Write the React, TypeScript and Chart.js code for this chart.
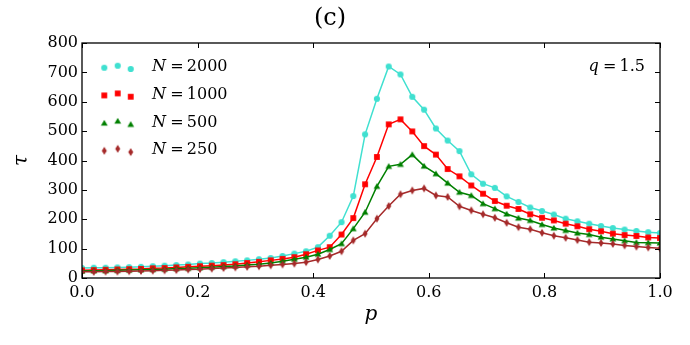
import React, { useEffect, useRef } from 'react';
import { Chart, registerables } from 'chart.js';

Chart.register(...registerables);

// ---- data ----
const P_COUNT = 50; // p sampled uniformly on [0, 1]
const P = Array.from({ length: P_COUNT }, (_, k) => k / (P_COUNT - 1));

const SIZES = [2000, 1000, 500, 250];
const Q_VALUE = '1.5';
const TITLE = '(c)';
const X_LABEL = 'p';
const Y_LABEL = 'τ';

const TAU_N2000 = [34, 35, 35, 36, 37, 38, 40, 42, 44, 46, 49, 51, 54, 57, 60, 64, 68, 75,
  83, 91, 105, 144, 190, 279, 489, 610, 720, 693, 617, 573, 509, 468, 432, 353, 321, 307,
  278, 259, 240, 228, 216, 202, 193, 185, 177, 170, 165, 160, 156, 153];
const TAU_N1000 = [26, 27, 28, 29, 30, 31, 33, 34, 36, 38, 40, 42, 44, 47, 51, 55, 60, 65,
  71, 81, 94, 105, 148, 204, 319, 412, 523, 540, 499, 449, 420, 371, 346, 315, 287,
  262, 246, 235, 217, 205, 196, 185, 176, 166, 159, 151, 146, 143, 138, 136];
const TAU_N500 = [24, 25, 25, 26, 27, 28, 29, 30, 32, 33, 35, 37, 39, 41, 44, 47, 51, 57,
  64, 71, 81, 97, 117, 168, 224, 312, 380, 387, 420, 381, 355, 323, 292, 281, 253,
  236, 218, 204, 196, 182, 170, 162, 153, 148, 139, 133, 127, 121, 120, 119];
const TAU_N250 = [21, 21, 22, 22, 23, 24, 25, 26, 27, 29, 30, 32, 34, 36, 38, 40, 43, 46,
  49, 54, 63, 75, 91, 128, 151, 202, 245, 285, 298, 305, 281, 276, 244, 230, 217,
  205, 188, 173, 166, 154, 144, 137, 129, 122, 119, 116, 111, 107, 104, 101];

const SERIES = [TAU_N2000, TAU_N1000, TAU_N500, TAU_N250];
const COLORS = ['#40E0D0', '#FF0000', '#008000', '#A52A2A'];
const MARKERS = ['circle', 'square', 'triangle', 'thinDiamond'];

const SERIF = '"DejaVu Serif", serif';

function makeMarker(kind: string, color: string): HTMLCanvasElement {
  const c = document.createElement('canvas');
  c.width = 10;
  c.height = 10;
  const g = c.getContext('2d')!;
  g.fillStyle = color;
  g.beginPath();
  if (kind === 'circle') {
    g.arc(5, 5, 3.1, 0, Math.PI * 2);
  } else if (kind === 'square') {
    g.rect(2.1, 2.1, 5.8, 5.8);
  } else if (kind === 'triangle') {
    g.moveTo(5, 1.7);
    g.lineTo(8.4, 7.5);
    g.lineTo(1.6, 7.5);
    g.closePath();
  } else {
    g.moveTo(5, 1.1);
    g.lineTo(7.5, 5);
    g.lineTo(5, 8.9);
    g.lineTo(2.5, 5);
    g.closePath();
  }
  g.fill();
  return c;
}

function drawMath(ctx: CanvasRenderingContext2D, x: number, y: number, v: string, rest: string, size: number, align: 'left' | 'right') {
  ctx.textBaseline = 'middle';
  ctx.textAlign = 'left';
  const itFont = `italic ${size}px ${SERIF}`;
  const upFont = `${size}px ${SERIF}`;
  const restText = '\u2009=\u2009' + rest;
  ctx.font = itFont;
  const w1 = ctx.measureText(v).width;
  ctx.font = upFont;
  const w2 = ctx.measureText(restText).width;
  const x0 = align === 'left' ? x : x - w1 - w2;
  ctx.font = itFont;
  ctx.fillText(v, x0, y);
  ctx.font = upFont;
  ctx.fillText(restText, x0 + w1 + 1, y);
}

export default function App() {
  const ref = useRef<HTMLCanvasElement | null>(null);

  useEffect(() => {
    const canvas = ref.current;
    if (!canvas) return;
    const markerImgs = MARKERS.map((m, i) => makeMarker(m, COLORS[i]));

    const frame = {
      id: 'frameAndLegend',
      afterDraw(chart: any) {
        const { ctx, chartArea: a, scales } = chart;
        ctx.save();
        // inward ticks
        ctx.strokeStyle = '#000';
        ctx.lineWidth = 1;
        const tl = 5;
        ctx.beginPath();
        scales.y.ticks.forEach((t: any) => {
          const py = Math.round(scales.y.getPixelForValue(t.value)) + 0.5;
          ctx.moveTo(a.left, py); ctx.lineTo(a.left + tl, py);
          ctx.moveTo(a.right, py); ctx.lineTo(a.right - tl, py);
        });
        scales.x.ticks.forEach((t: any) => {
          const px = Math.round(scales.x.getPixelForValue(t.value)) + 0.5;
          ctx.moveTo(px, a.bottom); ctx.lineTo(px, a.bottom - tl);
          ctx.moveTo(px, a.top); ctx.lineTo(px, a.top + tl);
        });
        ctx.stroke();
        // box
        ctx.lineWidth = 1.3;
        ctx.strokeRect(a.left, a.top, a.right - a.left, a.bottom - a.top);

        // legend
        ctx.fillStyle = '#000';
        const mx = [104.3, 117.7, 130.7];
        const dy = [0.7, -1.3, 2.0];
        SIZES.forEach((n, i) => {
          const cy = 67 + i * 27.7;
          mx.forEach((x, j) => {
            ctx.drawImage(markerImgs[i], x - 5, cy + dy[j] - 5);
          });
          ctx.fillStyle = '#000';
          drawMath(ctx, 152, cy, 'N', String(n), 16, 'left');
        });
        // parameter label
        drawMath(ctx, 644, 67, 'q', Q_VALUE, 16, 'right');
        ctx.restore();
      },
    };

    const datasets = SERIES.map((vals, i) => ({
      label: `N = ${SIZES[i]}`,
      data: vals.map((v, k) => ({ x: P[k], y: v })),
      borderColor: COLORS[i],
      backgroundColor: COLORS[i],
      borderWidth: 1.5,
      pointStyle: markerImgs[i] as any,
      pointRadius: 3,
      order: SERIES.length - 1 - i,
      clip: 0,
      tension: 0,
    }));

    const chart = new Chart(canvas, {
      type: 'line',
      data: { datasets },
      options: {
        responsive: false,
        animation: false,
        devicePixelRatio: 1,
        layout: { padding: { left: 0, right: 30, top: 0, bottom: 0 } },
        plugins: {
          legend: { display: false },
          tooltip: { enabled: false },
          title: {
            display: true,
            text: TITLE,
            color: '#000',
            font: { family: SERIF, size: 24, weight: 'normal' },
            padding: { top: 4, bottom: 10.2 },
          },
        },
        scales: {
          x: {
            type: 'linear',
            min: 0,
            max: 1,
            afterFit: (s: any) => { s.height = 67; },
            grid: { display: false, drawTicks: false },
            border: { display: false },
            ticks: {
              stepSize: 0.2,
              padding: 5,
              color: '#000',
              font: { family: SERIF, size: 16 },
              callback: (v: any) => Number(v).toFixed(1),
            },
            title: {
              display: true,
              text: X_LABEL,
              color: '#000',
              font: { family: SERIF, size: 20, style: 'italic' },
              padding: { top: 0, bottom: 18 },
            },
          },
          y: {
            type: 'linear',
            min: 0,
            max: 800,
            afterFit: (s: any) => { s.width = 82; },
            grid: { display: false, drawTicks: false },
            border: { display: false },
            ticks: {
              stepSize: 100,
              padding: 4,
              color: '#000',
              font: { family: SERIF, size: 16 },
            },
            title: {
              display: true,
              text: Y_LABEL,
              color: '#000',
              font: { family: SERIF, size: 20, style: 'italic' },
              padding: { top: 10, bottom: 0 },
            },
          },
        },
      },
      plugins: [frame],
    });
    return () => chart.destroy();
  }, []);

  return (
    <div style={{ position: 'absolute', left: 0, top: 0, width: 690, height: 345, background: '#fff' }}>
      <canvas ref={ref} width={690} height={345} style={{ width: 690, height: 345, display: 'block' }} />
    </div>
  );
}
